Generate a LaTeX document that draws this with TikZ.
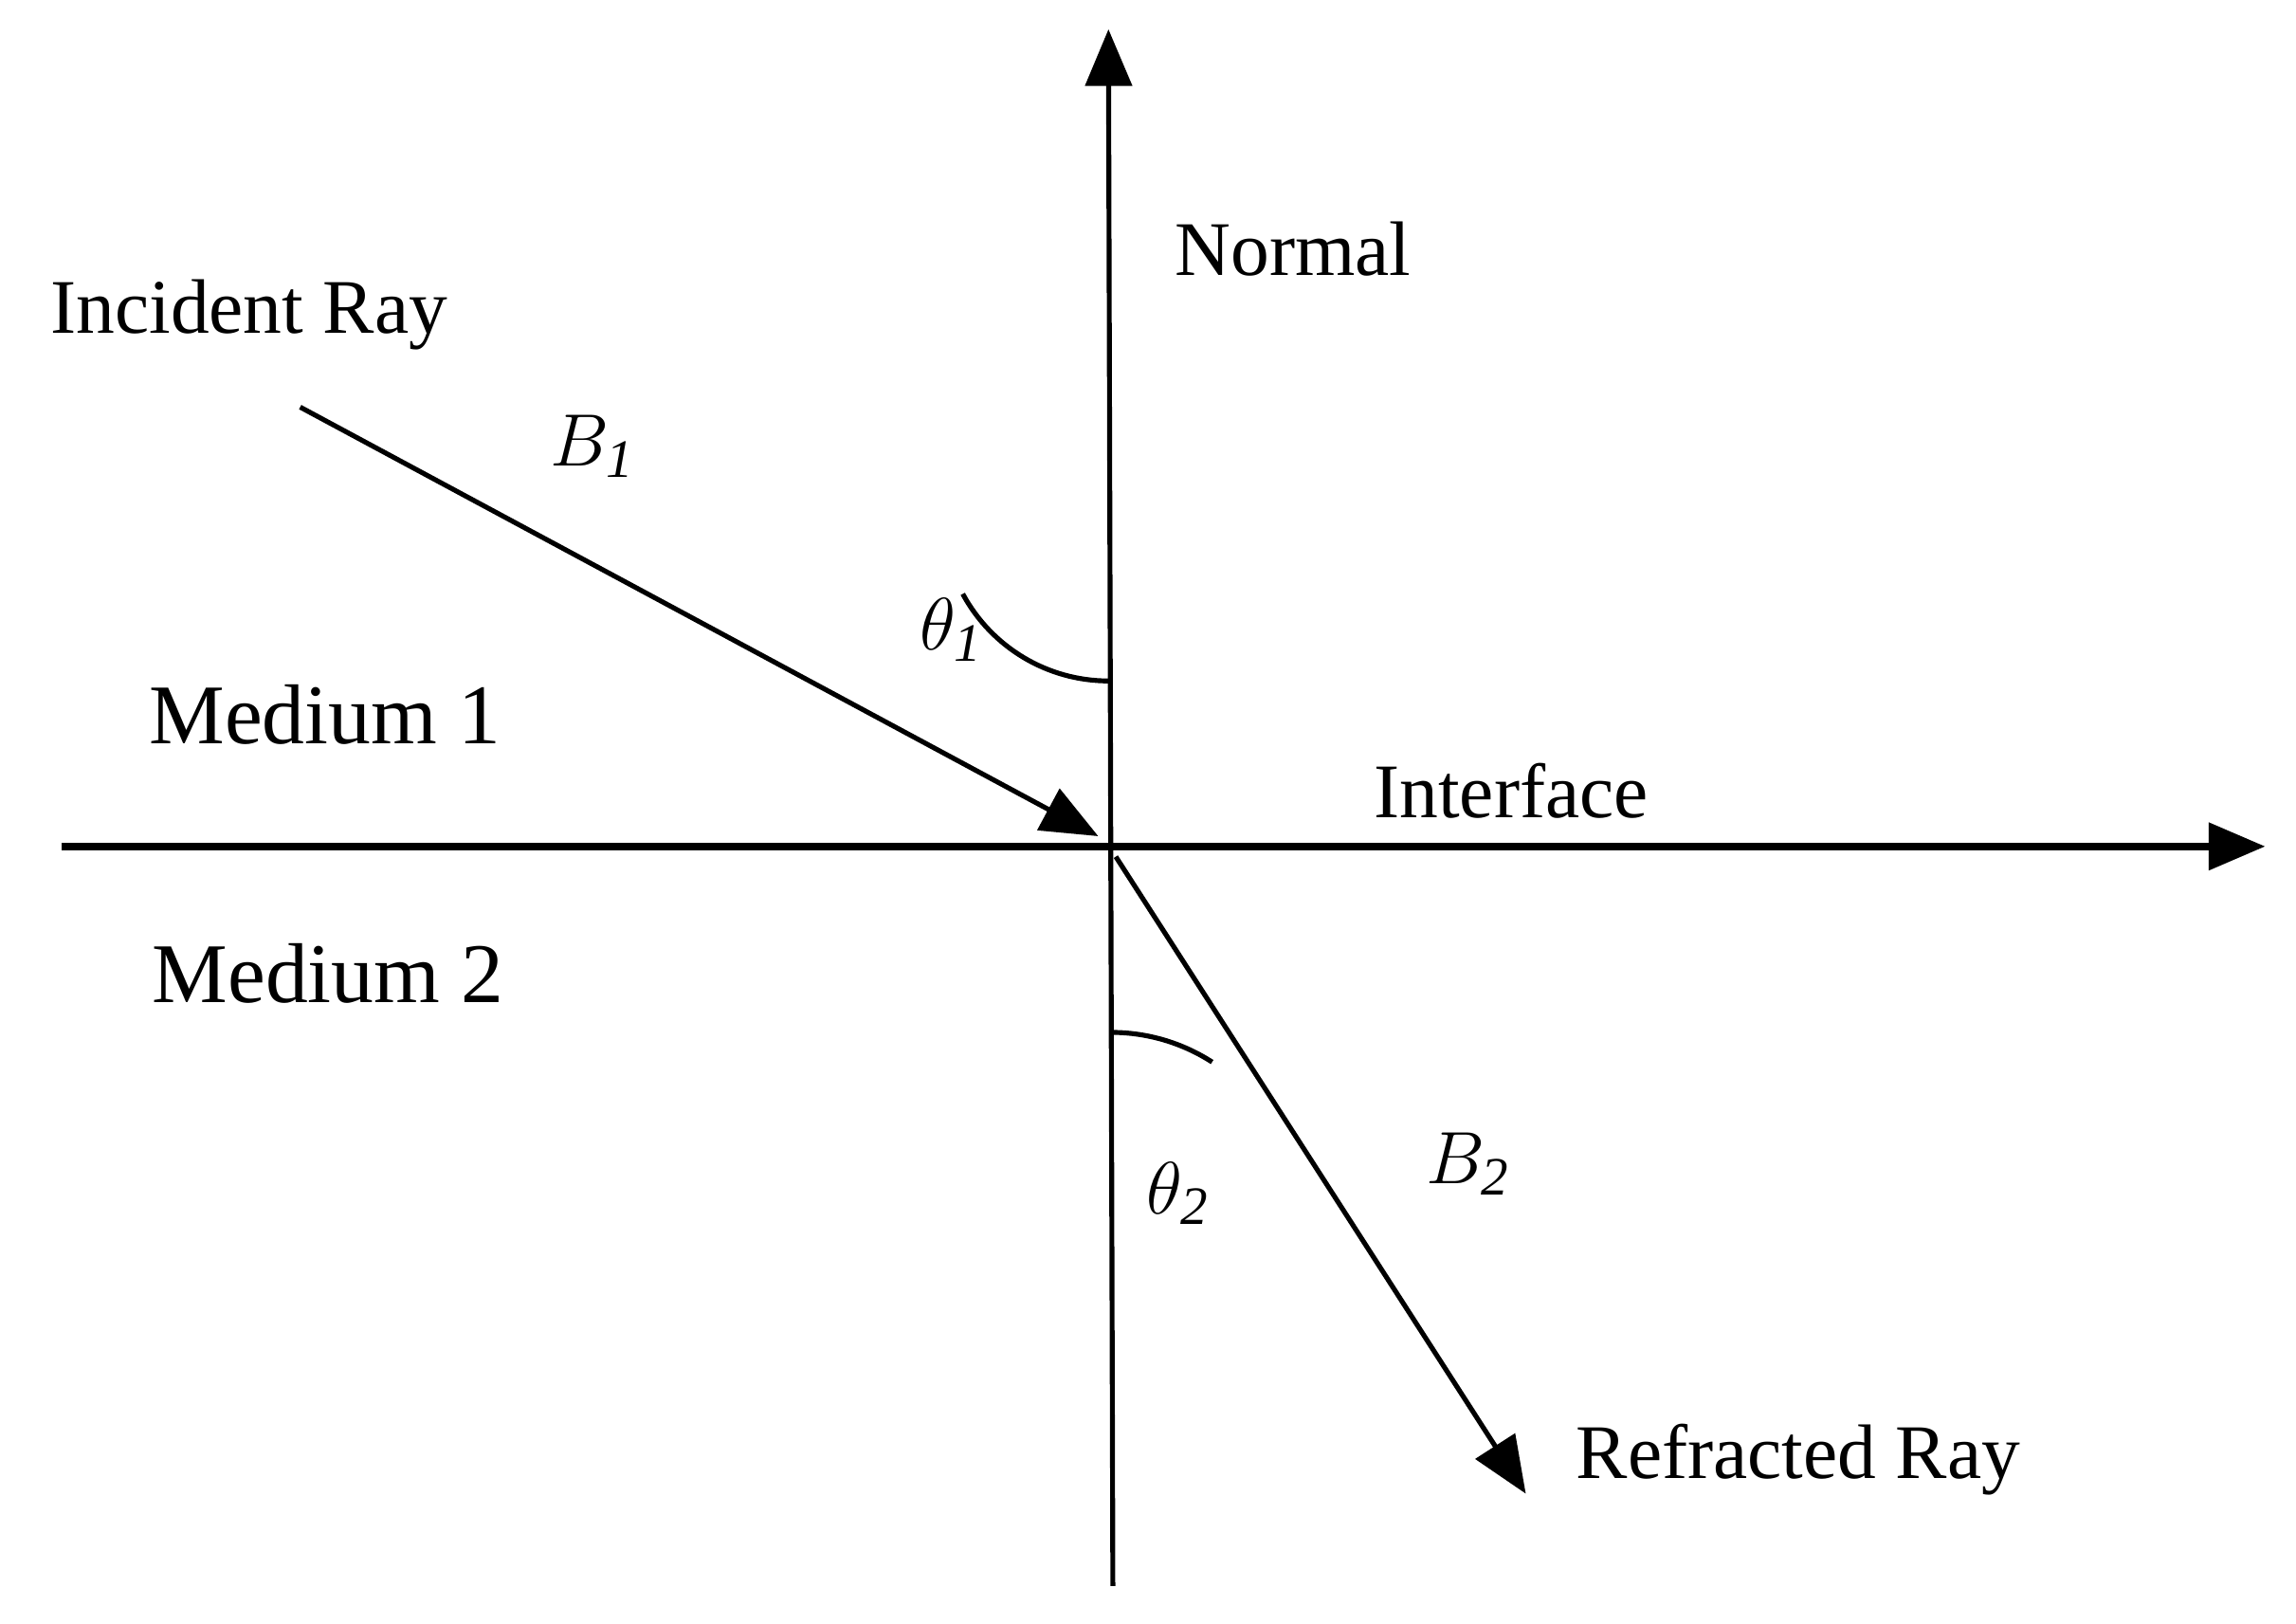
\documentclass[tikz,border=0pt]{standalone}
\usepackage{fontspec}
\setmainfont{Liberation Serif}
\usetikzlibrary{arrows.meta}
\begin{document}
\begin{tikzpicture}[x=0.01cm,y=-0.01cm,
  ln/.style={line width=0.95pt},
  ar/.style={ln,-{Triangle[length=11pt,width=9pt]}},
  lab/.style={font=\fontsize{15}{18}\selectfont},
  mlab/.style={font=\fontsize{16.5}{19}\selectfont}]
\useasboundingbox (0,0) rectangle (1568,1109);
\coordinate (O) at (757,578);
\coordinate (nb) at (760,1083);
\coordinate (nt) at (757,20);
\coordinate (il) at (42,578);
\coordinate (ir) at (1547,578);
\coordinate (is) at (205,278);
\coordinate (ie) at (750,571);
\coordinate (rs) at (762,585);
\coordinate (re) at (1042,1020);
\draw[ar] (nb) -- (nt);
\draw[ar,line width=1.4pt] (il) -- (ir);
\draw[ar] (is) -- (ie);
\draw[ar] (rs) -- (re);
\draw[ln] (757,465) arc[start angle=90,end angle=151.7,radius=113];
\draw[ln] (759,705) arc[start angle=-90,end angle=-57.2,radius=127];
\node[lab] (n) at (883,170) {Normal};
\node[lab] (inc) at (170,215) {Incident Ray};
\node[lab] (b1) at (405,305) {$B_{\mathit{1}}$};
\node[lab] (t1) at (650,430) {$\theta_{\mathit{1}}$};
\node[mlab] (m1) at (222,488) {Medium 1};
\node[lab] (intf) at (1032,540) {Interface};
\node[mlab] (m2) at (224,665) {Medium 2};
\node[lab] (b2) at (1003,795) {$B_{\mathit{2}}$};
\node[lab] (t2) at (805,815) {$\theta_{\mathit{2}}$};
\node[lab] (ref) at (1228,997) {Refracted Ray};
\end{tikzpicture}
\end{document}
